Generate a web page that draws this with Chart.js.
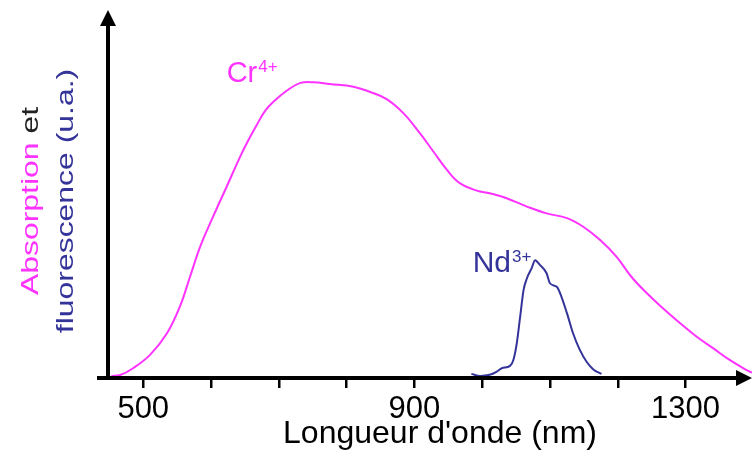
<!DOCTYPE html>
<html>
<head>
<meta charset="utf-8">
<script src="https://cdn.jsdelivr.net/npm/chart.js@4.4.1/dist/chart.umd.min.js"></script>
<style>
  html, body { margin: 0; padding: 0; background: #fff; }
  #wrap { width: 752px; height: 457px; }
</style>
</head>
<body>
<div id="wrap"><canvas id="myChart"></canvas></div>
<script>
// Cr4+ absorption (arbitrary units, peak ~100)
const crWavelength = [453, 466, 485, 510, 535, 554, 569, 584, 603, 623, 643, 655, 667, 680, 692, 712, 731, 751, 775, 810, 834, 859, 884, 908, 928, 948, 967, 992, 1011, 1036, 1066, 1095, 1125, 1149, 1174, 1198, 1220, 1243, 1267, 1292, 1316, 1341, 1365, 1390, 1398];
const crValues = [0.7, 1.0, 3.3, 7.8, 15.1, 24.1, 34.2, 44.4, 54.5, 64.6, 74.8, 80.3, 85.3, 90.3, 93.3, 97.1, 99.6, 99.9, 99.3, 98.4, 96.7, 94.2, 89.4, 82.7, 76.5, 70.3, 65.8, 63.3, 62.4, 60.7, 57.9, 55.6, 54.0, 51.1, 46.6, 41.0, 34.2, 28.6, 23.5, 18.5, 14.0, 10.0, 6.1, 2.7, 1.8];

// Nd3+ fluorescence
const ndWavelength = [984, 997, 1011, 1021, 1029, 1041, 1046, 1051, 1056, 1061, 1066, 1073, 1078, 1085, 1095, 1100, 1110, 1115, 1125, 1134, 1144, 1154, 1164, 1176];
const ndValues = [1.4, 0.7, 1.1, 2.1, 3.3, 4.1, 6.1, 11.7, 20.7, 29.7, 33.7, 37.1, 39.8, 38.2, 35.4, 32.0, 30.8, 28.6, 21.9, 15.1, 9.5, 5.5, 2.9, 1.4];

const tickValues = [500, 600, 700, 800, 900, 1000, 1100, 1200, 1300];
const tickLabels = ['500', '', '', '', '900', '', '', '', '1300'];

const pink = '#ff33ff';
const blue = '#333399';
const font = '"Liberation Sans", Arial, sans-serif';

function toPoints(xs, ys) {
    return xs.map((x, i) => ({ x: x, y: ys[i] }));
}

function drawSup(ctx, base, sup, x, y, color, size) {
    ctx.fillStyle = color;
    ctx.textAlign = 'left';
    ctx.textBaseline = 'alphabetic';
    ctx.font = size + 'px ' + font;
    ctx.fillText(base, x, y);
    const w = ctx.measureText(base).width;
    ctx.font = '17px ' + font;
    ctx.fillText(sup, x + w + 1, y - 10);
}

const decor = {
    id: 'decor',
    afterDraw(chart) {
        const ctx = chart.ctx;
        const { left, right, top, bottom } = chart.chartArea;
        const xs = chart.scales.x, ys = chart.scales.y;
        ctx.save();

        // axes with arrows
        ctx.strokeStyle = '#000';
        ctx.fillStyle = '#000';
        ctx.lineWidth = 4;
        ctx.beginPath();
        ctx.moveTo(left - 11, bottom);
        ctx.lineTo(right - 12, bottom);
        ctx.moveTo(left, bottom);
        ctx.lineTo(left, top + 12);
        ctx.stroke();
        ctx.beginPath();
        ctx.moveTo(right, bottom);
        ctx.lineTo(right - 16, bottom - 8);
        ctx.lineTo(right - 16, bottom + 8);
        ctx.closePath();
        ctx.fill();
        ctx.beginPath();
        ctx.moveTo(left, top);
        ctx.lineTo(left - 8, top + 16);
        ctx.lineTo(left + 8, top + 16);
        ctx.closePath();
        ctx.fill();

        // x title
        ctx.font = '32px ' + font;
        ctx.textAlign = 'center';
        ctx.textBaseline = 'alphabetic';
        ctx.fillText("Longueur d'onde (nm)", 440, bottom + 65);

        // y title, two lines, rotated
        const midY = (top + bottom) / 2 + 7;
        ctx.font = '24px ' + font;
        ctx.save();
        ctx.translate(left - 70, midY);
        ctx.rotate(-Math.PI / 2);
        ctx.scale(1.33, 1);
        const w1 = ctx.measureText('Absorption').width;
        const w2 = ctx.measureText(' et').width;
        ctx.textAlign = 'left';
        ctx.fillStyle = pink;
        ctx.fillText('Absorption', -(w1 + w2) / 2, 0);
        ctx.fillStyle = '#222';
        ctx.fillText(' et', -(w1 + w2) / 2 + w1, 0);
        ctx.restore();
        ctx.save();
        ctx.translate(left - 35, midY);
        ctx.rotate(-Math.PI / 2);
        ctx.scale(1.33, 1);
        ctx.textAlign = 'center';
        ctx.fillStyle = blue;
        ctx.fillText('fluorescence (u.a.)', 0, 0);
        ctx.restore();

        // series labels
        drawSup(ctx, 'Cr', '4+', xs.getPixelForValue(623), ys.getPixelForValue(100), pink, 29);
        drawSup(ctx, 'Nd', '3+', xs.getPixelForValue(986), ys.getPixelForValue(35.8), blue, 30);

        ctx.restore();
    }
};

new Chart('myChart', {
    type: 'line',
    data: {
        datasets: [{
            data: toPoints(crWavelength, crValues),
            borderColor: pink,
            borderWidth: 2,
            pointRadius: 0,
            fill: false,
            tension: 0.4
        }, {
            data: toPoints(ndWavelength, ndValues),
            borderColor: blue,
            borderWidth: 2,
            pointRadius: 0,
            fill: false,
            cubicInterpolationMode: 'monotone'
        }]
    },
    options: {
        responsive: true,
        maintainAspectRatio: false,
        animation: false,
        devicePixelRatio: 1,
        layout: { padding: { left: 108, top: 10, right: 0, bottom: 0 } },
        plugins: { legend: { display: false }, tooltip: { enabled: false } },
        scales: {
            x: {
                type: 'linear',
                min: 448,
                max: 1398,
                afterFit: scale => { scale.height = 79; },
                afterBuildTicks: scale => { scale.ticks = tickValues.map(v => ({ value: v })); },
                ticks: {
                    callback: v => tickLabels[tickValues.indexOf(v)],
                    font: { family: font, size: 31 },
                    color: '#000',
                    maxRotation: 0,
                    autoSkip: false,
                    padding: 3
                },
                grid: { drawOnChartArea: false, drawTicks: true, tickLength: 10, lineWidth: 2.5, color: '#000' },
                border: { display: false }
            },
            y: { display: false, min: 0, max: 124.3 }
        }
    },
    plugins: [decor]
});
</script>
</body>
</html>
